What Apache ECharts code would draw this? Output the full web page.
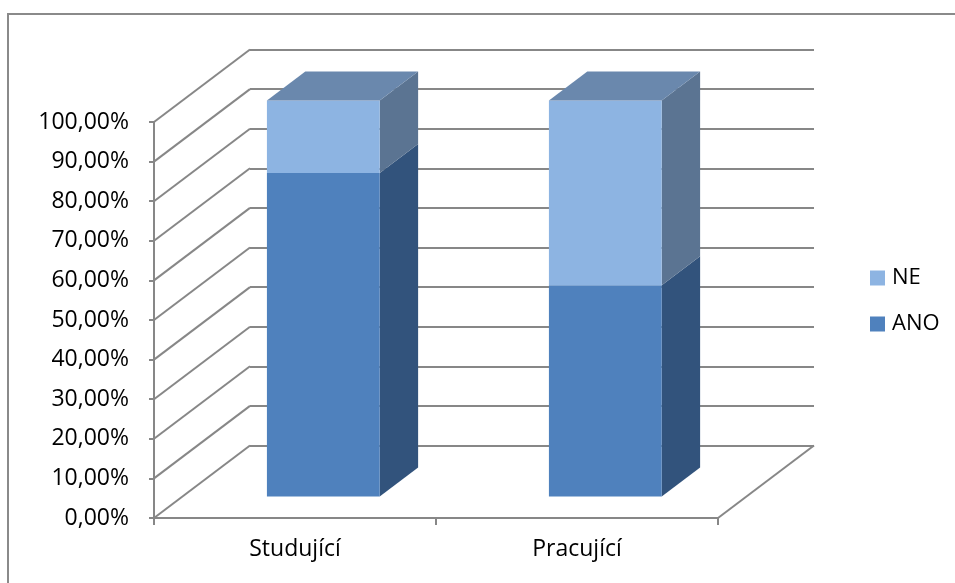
<!DOCTYPE html>
<html>
<head>
<meta charset="utf-8">
<title>Studující / Pracující</title>
<script src="https://cdn.jsdelivr.net/npm/echarts@6/dist/echarts.min.js"></script>
<style>
  html, body { margin: 0; padding: 0; background: #ffffff; }
  #chart { width: 955px; height: 583px; }
</style>
</head>
<body>
<div id="chart"></div>
<script>
// Data
const categories = ['Studující', 'Pracující'];
const anoValues = [81.7, 53.4];   // ANO, %
const neValues = [18.3, 46.6];    // NE, %
const yTicks = [0, 10, 20, 30, 40, 50, 60, 70, 80, 90, 100];

// Pseudo-3D depth vector (front plane -> back wall), in pixels
const DEPTH_X = 96;
const DEPTH_Y = -72.5;
const BAR_FRONT = 0.295;  // depth fraction where the bar front face sits
const BAR_DEPTH = 0.40;   // depth fraction occupied by the bar
const BAR_WIDTH = 0.40;   // fraction of a category band

const GRID_COLOR = '#878787';
const FONT = '"Open Sans", "DejaVu Sans", sans-serif';

const palette = {
  ANO: { front: '#4F81BD', side: '#32537C', top: '#6A88AD' },
  NE:  { front: '#8DB4E2', side: '#5B7492', top: '#6A88AD' }
};

const anoData = categories.map((c, i) => [i, 0, anoValues[i]]);
const neData = categories.map((c, i) => [i, anoValues[i], anoValues[i] + neValues[i]]);

function barRenderer(colors, drawTop) {
  return function (params, api) {
    const cat = api.value(0);
    const lo = api.value(1);
    const hi = api.value(2);
    const pLo = api.coord([cat, lo]);
    const pHi = api.coord([cat, hi]);
    const bw = api.size([1, 0])[0] * BAR_WIDTH;
    const fx = DEPTH_X * BAR_FRONT, fy = DEPTH_Y * BAR_FRONT;
    const bx = DEPTH_X * BAR_DEPTH, by = DEPTH_Y * BAR_DEPTH;
    const xl = pLo[0] - bw / 2 + fx;
    const xr = xl + bw;
    const yb = pLo[1] + fy;
    const yt = pHi[1] + fy;
    const children = [
      {
        type: 'polygon',
        shape: { points: [[xr, yb], [xr + bx, yb + by], [xr + bx, yt + by], [xr, yt]] },
        style: { fill: colors.side }
      },
      {
        type: 'rect',
        shape: { x: xl, y: yt, width: bw, height: yb - yt },
        style: { fill: colors.front }
      }
    ];
    if (drawTop) {
      children.push({
        type: 'polygon',
        shape: { points: [[xl, yt], [xl + bx, yt + by], [xr + bx, yt + by], [xr, yt]] },
        style: { fill: colors.top }
      });
    }
    return { type: 'group', children: children };
  };
}

// Side wall diagonals and the floor's right edge
function wallRenderer(params, api) {
  const v = api.value(0);
  const cs = params.coordSys;
  const p = api.coord([0, v]);
  const x0 = cs.x;
  const children = [{
    type: 'line',
    shape: { x1: x0, y1: p[1], x2: x0 + DEPTH_X, y2: p[1] + DEPTH_Y },
    style: { stroke: GRID_COLOR, lineWidth: 2 }
  }];
  if (v === 0) {
    children.push({
      type: 'line',
      shape: { x1: x0 + cs.width, y1: p[1], x2: x0 + cs.width + DEPTH_X, y2: p[1] + DEPTH_Y },
      style: { stroke: GRID_COLOR, lineWidth: 2 }
    });
  }
  return { type: 'group', children: children };
}

const chart = echarts.init(document.getElementById('chart'), null, { renderer: 'canvas' });

const pct = v => v.toFixed(2).replace('.', ',') + '%';

chart.setOption({
  animation: false,
  backgroundColor: '#ffffff',
  textStyle: { fontFamily: FONT },
  graphic: [{
    type: 'rect',
    shape: { x: 8, y: 14, width: 1000, height: 600 },
    style: { fill: 'none', stroke: '#8a8a8a', lineWidth: 2 },
    silent: true,
    z: -10
  }],
  legend: {
    data: ['NE', 'ANO'],
    orient: 'vertical',
    left: 865,
    top: 262,
    itemWidth: 15,
    itemHeight: 15,
    itemGap: 24,
    icon: 'rect',
    textStyle: { fontFamily: FONT, fontSize: 22, color: '#000', padding: [0, 0, 0, 2] }
  },
  grid: [
    { left: 154, right: 955 - 718, top: 122, bottom: 583 - 518 },
    { left: 154 + DEPTH_X, right: 955 - 718 - DEPTH_X, top: 122 + DEPTH_Y, bottom: 583 - 518 - DEPTH_Y }
  ],
  xAxis: [
    {
      gridIndex: 0,
      type: 'category',
      data: categories,
      boundaryGap: true,
      axisLine: { lineStyle: { color: GRID_COLOR, width: 2 } },
      axisTick: { show: true, length: 7, lineStyle: { color: GRID_COLOR, width: 2 } },
      axisLabel: { color: '#000', fontSize: 23, fontFamily: FONT, margin: 20 },
      splitLine: { show: false }
    },
    {
      gridIndex: 1,
      type: 'category',
      data: categories,
      show: false
    }
  ],
  yAxis: [
    {
      gridIndex: 0,
      type: 'value',
      min: 0,
      max: 100,
      interval: 10,
      axisLine: { show: true, lineStyle: { color: GRID_COLOR, width: 2 } },
      axisTick: { show: true, length: 5, lineStyle: { color: GRID_COLOR, width: 2 } },
      axisLabel: { color: '#000', fontSize: 23, fontFamily: FONT, margin: 25, formatter: pct, padding: [4, 0, 0, 0] },
      splitLine: { show: false }
    },
    {
      gridIndex: 1,
      type: 'value',
      min: 0,
      max: 100,
      interval: 10,
      axisLine: { show: false },
      axisTick: { show: false },
      axisLabel: { show: false },
      splitLine: { show: true, lineStyle: { color: GRID_COLOR, width: 2 } }
    }
  ],
  series: [
    {
      name: 'walls',
      type: 'custom',
      xAxisIndex: 0,
      yAxisIndex: 0,
      data: yTicks.map(v => [v]),
      encode: { y: 0 },
      renderItem: wallRenderer,
      silent: true,
      z: 1
    },
    {
      name: 'ANO',
      type: 'custom',
      xAxisIndex: 0,
      yAxisIndex: 0,
      data: anoData,
      encode: { x: 0, y: [1, 2] },
      itemStyle: { color: palette.ANO.front },
      renderItem: barRenderer(palette.ANO, false),
      z: 3
    },
    {
      name: 'NE',
      type: 'custom',
      xAxisIndex: 0,
      yAxisIndex: 0,
      data: neData,
      encode: { x: 0, y: [1, 2] },
      itemStyle: { color: palette.NE.front },
      renderItem: barRenderer(palette.NE, true),
      z: 3
    }
  ]
});
</script>
</body>
</html>
